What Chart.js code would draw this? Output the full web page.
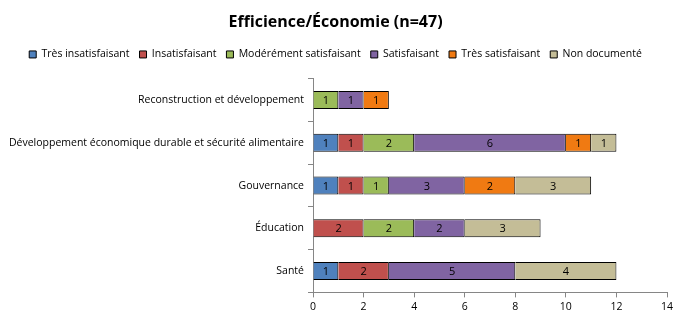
<!DOCTYPE html>
<html>
<head>
<meta charset="utf-8">
<script src="https://cdn.jsdelivr.net/npm/chart.js@4"></script>
<style>
  body { margin: 0; background: #fff; }
  #wrap { width: 687px; height: 323px; }
</style>
</head>
<body>
<div id="wrap"><canvas id="myChart" width="687" height="323"></canvas></div>
<script>
// catégories (de haut en bas)
var categories = ['Reconstruction et développement', 'Développement économique durable et sécurité alimentaire', 'Gouvernance', 'Éducation', 'Santé'];
var seriesNames = ['Très insatisfaisant', 'Insatisfaisant', 'Modérément satisfaisant', 'Satisfaisant', 'Très satisfaisant', 'Non documenté'];
var tresInsatisfaisant = [0, 1, 1, 0, 1];
var insatisfaisant = [0, 1, 1, 2, 2];
var moderement = [1, 2, 1, 2, 0];
var satisfaisant = [1, 6, 3, 2, 5];
var tresSatisfaisant = [1, 1, 2, 0, 0];
var nonDocumente = [0, 1, 3, 3, 4];
var xTicks = [0, 2, 4, 6, 8, 10, 12, 14];

var colors = ['#4F81BD', '#C0504D', '#9BBB59', '#8064A2', '#F07A12', '#C4BD97'];
var allValues = [tresInsatisfaisant, insatisfaisant, moderement, satisfaisant, tresSatisfaisant, nonDocumente];

var FONT = 'Open Sans';

var datasets = [];
for (var i = 0; i < seriesNames.length; i++) {
  datasets.push({
    label: seriesNames[i],
    data: allValues[i],
    backgroundColor: colors[i],
    borderColor: '#000',
    borderWidth: 1,
    barPercentage: 0.42,
    categoryPercentage: 1
  });
}

// étiquettes de valeurs au centre des segments
var valueLabels = {
  id: 'valueLabels',
  afterDatasetsDraw: function(chart) {
    var ctx = chart.ctx;
    ctx.save();
    ctx.font = '11px "' + FONT + '"';
    ctx.fillStyle = '#000';
    ctx.textAlign = 'center';
    ctx.textBaseline = 'middle';
    chart.data.datasets.forEach(function(ds, di) {
      var meta = chart.getDatasetMeta(di);
      meta.data.forEach(function(bar, j) {
        var v = ds.data[j];
        if (!v) return;
        var cx = (bar.x + bar.base) / 2;
        ctx.fillText(String(v), cx, bar.y + 1);
      });
    });
    ctx.restore();
  }
};

// espace sous la légende
var legendGap = {
  id: 'legendGap',
  beforeLayout: function(chart) {
    var lg = chart.legend;
    if (lg && !lg._gapDone) {
      var orig = lg.fit;
      lg.fit = function() { orig.call(this); this.height += 9; };
      lg._gapDone = true;
    }
  }
};

new Chart(document.getElementById('myChart'), {
  type: 'bar',
  data: { labels: categories, datasets: datasets },
  plugins: [valueLabels, legendGap],
  options: {
    indexAxis: 'y',
    responsive: false,
    animation: false,
    layout: { padding: { left: 4, right: 20, top: 7, bottom: 7 } },
    plugins: {
      title: {
        display: true,
        text: 'Efficience/Économie (n=47)',
        color: '#000',
        font: { family: FONT, size: 16, weight: 'bold' },
        padding: { top: 6, bottom: 7 }
      },
      legend: {
        position: 'top',
        labels: {
          color: '#000',
          font: { family: FONT, size: 10.5 },
          boxWidth: 7,
          boxHeight: 7,
          padding: 10,
          useBorderRadius: false
        }
      },
      tooltip: { enabled: false }
    },
    scales: {
      x: {
        stacked: true,
        min: 0,
        max: 14,
        afterBuildTicks: function(scale) {
          scale.ticks = xTicks.map(function(v) { return { value: v }; });
        },
        border: { color: '#868686' },
        grid: { drawOnChartArea: false, color: '#868686', tickLength: 5 },
        ticks: { color: '#000', font: { family: FONT, size: 10.5 }, padding: 3 }
      },
      y: {
        stacked: true,
        afterFit: function(scale) { scale.width = 309; },
        border: { color: '#868686' },
        grid: { drawOnChartArea: false, color: '#868686', tickLength: 5 },
        ticks: { color: '#000', font: { family: FONT, size: 10.5 }, padding: 4 }
      }
    }
  }
});
</script>
</body>
</html>
